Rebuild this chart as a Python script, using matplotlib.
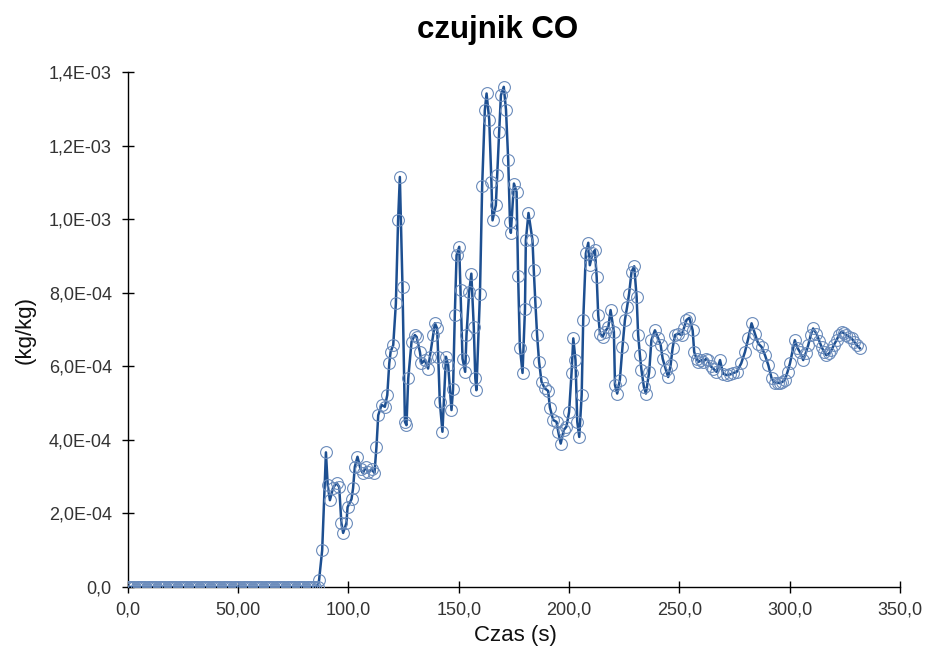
#=======================#
# Libraries importation #
#=======================#

import matplotlib
matplotlib.use("Agg")
import matplotlib.pyplot as plt
from matplotlib.ticker import FixedLocator, FuncFormatter

#==================#
# Global variables #
#==================#

LINE_COLOR = "#1d4f91"
MARKER_EDGE = "#6a8bbb"
LABEL_COLOR = "#333333"
FONT = ["Liberation Sans", "DejaVu Sans"]

# flat part before the sensor reacts (kg/kg, in units of 1E-4)
flat_time = list(range(0, 87))
flat_vals = [0.0] * len(flat_time)

# sensor response (time s, value in 1E-4 kg/kg)
resp_time = [
    86.7, 88.1, 89.8, 90.6, 91.6, 93.0, 94.6, 95.8, 96.8, 97.6, 99.1, 99.6,
    101.4, 102.1, 102.9, 104.1, 105.5, 106.5, 107.8, 109.0, 110.5, 111.8,
    112.7, 113.5, 115.0, 116.5, 117.6, 118.5, 119.1, 120.3, 121.5, 122.5,
    123.3, 124.5, 125.6, 126.3, 127.1, 128.6, 130.1, 130.9, 132.4, 133.1,
    134.6, 136.1, 136.9, 138.4, 139.2, 140.2, 140.7, 141.4, 142.6, 144.2,
    145.2, 146.7, 147.4, 148.2, 149.0, 150.2, 150.8, 151.7, 152.9, 153.5,
    154.7, 155.7, 156.8, 157.5, 158.0, 159.6, 160.6, 161.8, 162.6, 163.8,
    164.8, 165.3, 166.8, 167.4, 168.3, 169.1, 170.4, 171.4, 172.4, 173.2,
    173.6, 175.0, 176.2, 176.9, 177.7, 178.9, 180.0, 180.4, 181.6, 183.4,
    184.0, 184.7, 185.5, 186.4, 187.5, 189.0, 190.5, 191.3, 192.8, 194.3,
    195.1, 196.2, 197.6, 198.8, 200.0, 201.1, 201.9, 202.9, 203.7, 204.6,
    205.7, 206.4, 207.6, 208.7, 209.4, 210.6, 211.7, 212.5, 213.2, 214.0,
    215.2, 216.2, 217.8, 218.8, 220.3, 220.8, 221.8, 223.0, 224.2, 225.3,
    226.3, 227.2, 228.3, 229.5, 230.6, 231.3, 232.1, 232.8, 233.9, 234.8,
    236.3, 237.3, 238.9, 240.4, 241.5, 242.4, 243.9, 244.9, 246.0, 246.9,
    248.0, 249.5, 251.0, 252.0, 253.2, 254.5, 256.0, 256.7, 257.8, 258.6,
    260.0, 260.8, 262.0, 263.0, 264.2, 265.3, 266.8, 268.4, 269.8, 271.5,
    273.0, 274.5, 276.0, 278.0, 279.7, 281.2, 282.7, 284.2, 285.7, 287.2,
    288.8, 290.3, 291.8, 293.3, 294.5, 295.5, 296.7, 297.8, 299.0, 300.1,
    302.3, 303.5, 304.6, 306.1, 307.2, 308.4, 309.5, 310.6, 312.1, 313.3,
    314.4, 315.5, 316.6, 317.8, 318.9, 320.0, 321.2, 322.3, 323.5, 324.6,
    325.7, 326.9, 328.0, 329.2, 330.3, 331.8,
]
resp_vals = [
    0.19, 1.00, 3.66, 2.77, 2.36, 2.69, 2.83, 2.72, 1.74, 1.47, 1.74, 2.17,
    2.39, 2.69, 3.27, 3.54, 3.20, 3.10, 3.25, 3.12, 3.20, 3.10,
    3.81, 4.67, 4.95, 4.90, 5.22, 6.08, 6.39, 6.58, 7.71, 9.97,
    11.15, 8.16, 4.49, 4.40, 5.67, 6.67, 6.85, 6.80, 6.39, 6.08,
    6.17, 5.94, 6.26, 6.85, 7.17, 7.03, 6.26, 5.04, 4.22, 6.26,
    6.03, 4.81, 5.37, 7.39, 9.02, 9.25, 8.07, 6.21, 5.85, 6.85,
    8.02, 8.52, 7.07, 5.67, 5.35, 7.96, 10.90, 12.96, 13.42, 12.71,
    11.01, 9.97, 10.38, 11.20, 12.37, 13.37, 13.60, 12.98, 11.62, 9.93,
    9.63, 10.97, 10.74, 8.45, 6.51, 5.82, 7.55, 9.43, 10.17, 9.43,
    8.61, 7.75, 6.85, 6.12, 5.58, 5.40, 5.33, 4.88, 4.54, 4.49,
    4.22, 3.90, 4.27, 4.36, 4.76, 5.81, 6.76, 6.17, 4.49, 4.08,
    5.22, 7.26, 9.07, 9.36, 8.75, 9.07, 9.16, 8.43, 7.39, 6.89,
    6.80, 6.94, 7.07, 7.53, 6.94, 5.49, 5.26, 5.63, 6.53, 7.26,
    7.62, 7.98, 8.57, 8.72, 7.89, 6.85, 6.30, 5.90, 5.44, 5.26,
    5.85, 6.71, 6.98, 6.76, 6.58, 6.21, 5.90, 5.71, 6.03, 6.49,
    6.85, 6.89, 6.85, 7.03, 7.26, 7.32, 6.98, 6.39, 6.20, 6.12,
    6.17, 6.12, 6.20, 6.17, 6.00, 5.94, 5.85, 6.17, 5.80, 5.76,
    5.78, 5.82, 5.85, 6.08, 6.39, 6.76, 7.17, 6.89, 6.62, 6.53,
    6.30, 6.03, 5.67, 5.54, 5.56, 5.54, 5.58, 5.63, 5.85, 6.08,
    6.71, 6.50, 6.39, 6.17, 6.35, 6.58, 6.85, 7.03, 6.89, 6.70,
    6.53, 6.40, 6.30, 6.35, 6.44, 6.58, 6.71, 6.85, 6.94, 6.90,
    6.85, 6.80, 6.76, 6.67, 6.58, 6.49,
]

x_ticks = [0, 50, 100, 150, 200, 250, 300, 350]
x_tick_labels = ["0,0", "50,00", "100,0", "150,0", "200,0", "250,0", "300,0", "350,0"]
y_ticks = [0, 2e-4, 4e-4, 6e-4, 8e-4, 1e-3, 1.2e-3, 1.4e-3]


#==================#
# Tick formatting  #
#==================#

def sci_comma(v, pos):
    """ Formats a value like 2,0E-04 (0 gives 0,0). """
    if v == 0:
        return "0,0"
    return ("%.1E" % v).replace(".", ",")


#==========#
# Plotting #
#==========#

time = flat_time + resp_time
vals = [v * 1e-4 for v in flat_vals + resp_vals]

fig = plt.figure(figsize=(9.26, 6.5), dpi=100)
ax = fig.add_axes([0.138, 0.097, 0.834, 0.792])

ax.plot(time, vals, color=LINE_COLOR, linewidth=1.8, marker="o",
        markersize=8.5, markerfacecolor="none", markeredgecolor=MARKER_EDGE,
        markeredgewidth=0.8, zorder=3)

ax.set_xlim(0, 350)
ax.set_ylim(0, 1.4e-3)
ax.xaxis.set_major_locator(FixedLocator(x_ticks))
ax.set_xticklabels(x_tick_labels)
ax.yaxis.set_major_locator(FixedLocator(y_ticks))
ax.yaxis.set_major_formatter(FuncFormatter(sci_comma))

for side in ["top", "right"]:
    ax.spines[side].set_visible(False)
for side in ["left", "bottom"]:
    ax.spines[side].set_color("black")
    ax.spines[side].set_linewidth(1.0)
    ax.spines[side].set_clip_on(False)

ax.tick_params(direction="inout", length=9, width=1.0, colors="black",
               labelsize=13, labelcolor=LABEL_COLOR)
ax.tick_params(axis="x", pad=6)
ax.tick_params(axis="y", pad=7)
for lab in ax.get_xticklabels() + ax.get_yticklabels():
    lab.set_family(FONT)

fig.text(515 / 926, 1 - 635 / 650, "Czas (s)", ha="center", va="center",
         fontsize=16, family=FONT, color="#111111")
fig.text(25 / 926, 1 - 330 / 650, "(kg/kg)", ha="center", va="center",
         rotation=90, fontsize=16, family=FONT, color="#111111")
fig.text(498 / 926, 1 - 30 / 650, "czujnik CO", ha="center", va="center",
         fontsize=22.5, fontweight="bold", family=FONT)

plt.savefig("out.png", dpi=100)
